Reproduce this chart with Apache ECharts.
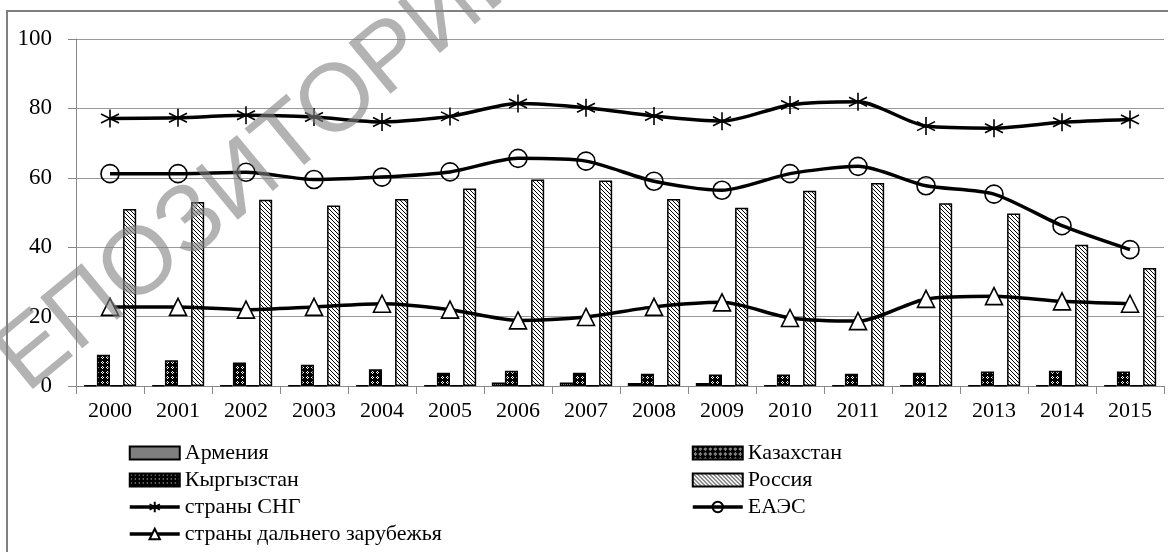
<!DOCTYPE html>
<html>
<head>
<meta charset="utf-8">
<script src="https://cdn.jsdelivr.net/npm/echarts@6/dist/echarts.min.js"></script>
<style>
html,body{margin:0;padding:0;background:#fff;}
#chart{width:1168px;height:552px;}
</style>
</head>
<body>
<div id="chart"></div>
<script>
const years = ['2000','2001','2002','2003','2004','2005','2006','2007','2008','2009','2010','2011','2012','2013','2014','2015'];
const armenia    = [0.2,0.2,0.2,0.2,0.2,0.2,1.0,1.0,0.9,0.9,0.2,0.2,0.2,0.2,0.2,0.2];
const kazakhstan = [9.0,7.4,6.8,6.1,4.8,3.8,4.4,3.8,3.5,3.3,3.3,3.5,3.8,4.2,4.4,4.2];
const kyrgyzstan = [0.1,0.1,0.1,0.1,0.1,0.1,0.1,0.1,0.1,0.1,0.1,0.1,0.1,0.1,0.1,0.1];
const russia     = [51.0,53.0,53.7,52.0,53.9,56.9,59.5,59.2,53.9,51.4,56.3,58.5,52.7,49.7,40.7,34.0];
const cis        = [77.1,77.3,78.0,77.5,76.1,77.7,81.4,80.2,77.8,76.3,81.0,81.9,74.9,74.3,76.0,76.8];
const eaeu       = [61.2,61.2,61.6,59.5,60.2,61.7,65.6,64.8,59.0,56.4,61.2,63.3,57.7,55.3,46.2,39.3];
const farAbroad  = [22.8,22.8,22.0,22.8,23.7,22.0,18.9,19.9,22.8,24.1,19.6,18.7,25.1,25.9,24.4,23.7];
const yTicks = [0,20,40,60,80,100];

function pattern(w,h,draw){
  const c=document.createElement('canvas'); c.width=w; c.height=h;
  const g=c.getContext('2d'); draw(g,w,h); return {image:c, repeat:'repeat'};
}
const patArm = pattern(2,2,(g)=>{g.fillStyle='#fff';g.fillRect(0,0,2,2);g.fillStyle='#000';g.fillRect(0,0,1,1);g.fillRect(1,1,1,1);});
const patKaz = pattern(5,5,(g)=>{g.fillStyle='#000';g.fillRect(0,0,5,5);g.fillStyle='#fff';g.fillRect(1,2,1,1);g.fillRect(3,2,1,1);g.fillRect(2,1,1,1);g.fillRect(2,3,1,1);});
const patKyr = pattern(4,4,(g)=>{g.fillStyle='#000';g.fillRect(0,0,4,4);g.fillStyle='#fff';g.fillRect(1,1,1,1);});
const patRus = pattern(4,4,(g)=>{g.fillStyle='#fff';g.fillRect(0,0,4,4);g.strokeStyle='#000';g.lineWidth=1;g.beginPath();g.moveTo(-1,-1);g.lineTo(5,5);g.moveTo(-1,3);g.lineTo(1,5);g.moveTo(3,-1);g.lineTo(5,1);g.stroke();});

const starPath = 'path://M10,0L10,20M1.34,5L18.66,15M1.34,15L18.66,5';
const serif = 'Liberation Serif';

const chart = echarts.init(document.getElementById('chart'), null, {renderer:'canvas'});
function barSeries(name, data, pat){
  return {name, type:'bar', data, barGap:'0%', barCategoryGap:'23%',
    itemStyle:{color:pat, borderColor:'#000', borderWidth:1.5}, z:2};
}
function lineSeries(name, data, symbol, size, fill){
  return {name, type:'line', data, smooth:0.25, symbol, symbolSize:size, z:5,
    lineStyle:{color:'#000', width:3.5},
    itemStyle:{color:fill, borderColor:'#000', borderWidth:1.6}};
}
const legendText = {fontFamily:serif, fontSize:22, color:'#000', lineHeight:21};
chart.setOption({
  animation:false,
  backgroundColor:'#fff',
  grid:{left:76, right:4, top:39, bottom:166},
  xAxis:{type:'category', data:years,
    axisLine:{lineStyle:{color:'#888', width:1}},
    axisTick:{show:true, length:8, lineStyle:{color:'#888'}},
    axisLabel:{color:'#000', fontFamily:serif, fontSize:22, margin:14},
    splitLine:{show:false}},
  yAxis:{type:'value', min:0, max:100, interval:20,
    axisLine:{show:true, lineStyle:{color:'#888', width:1}},
    axisTick:{show:true, inside:false, length:8, lineStyle:{color:'#888'}},
    axisLabel:{color:'#000', fontFamily:serif, fontSize:23, margin:24,
      formatter:(v)=> yTicks.includes(v) ? String(v) : ''},
    splitLine:{lineStyle:{color:'#999', width:1}}},
  legend:[
    {orient:'vertical', left:128, top:442, height:110, padding:0, itemWidth:50, itemHeight:13, itemGap:5,
     textStyle:legendText, lineStyle:{width:3.5},
     data:[{name:'Армения', icon:'rect'},{name:'Кыргызстан', icon:'rect'},'страны СНГ','страны дальнего зарубежья']},
    {orient:'vertical', left:691, top:442, height:110, padding:0, itemWidth:50, itemHeight:13, itemGap:5,
     textStyle:legendText, lineStyle:{width:3.5},
     data:[{name:'Казахстан', icon:'rect'},{name:'Россия', icon:'rect'},'ЕАЭС']}
  ],
  graphic:[
    {type:'rect', shape:{x:7, y:11, width:1172, height:560}, style:{fill:'none', stroke:'#808080', lineWidth:2}, z:0, silent:true},
    {type:'text', x:242, y:182, rotation:0.69, z:100, silent:true,
     style:{text:'РЕПОЗИТОРИЙ', font:'normal 96px "Liberation Sans", Arial, sans-serif', fill:'rgba(128,128,128,0.6)', align:'center', verticalAlign:'middle'}}
  ],
  series:[
    barSeries('Армения', armenia, patArm),
    barSeries('Казахстан', kazakhstan, patKaz),
    barSeries('Кыргызстан', kyrgyzstan, patKyr),
    barSeries('Россия', russia, patRus),
    lineSeries('страны СНГ', cis, starPath, 18, 'rgba(0,0,0,0)'),
    lineSeries('ЕАЭС', eaeu, 'circle', 18, 'rgba(0,0,0,0)'),
    lineSeries('страны дальнего зарубежья', farAbroad, 'triangle', 17, '#fff')
  ]
});
</script>
</body>
</html>
